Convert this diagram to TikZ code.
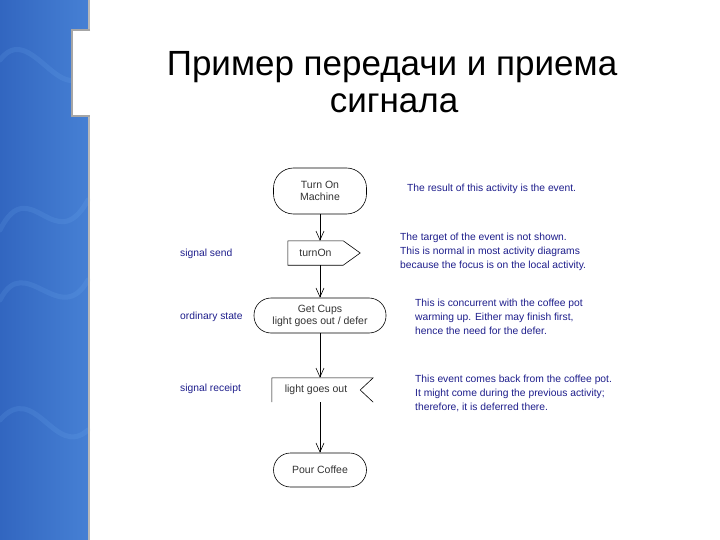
\documentclass[tikz,border=0pt]{standalone}
\usepackage{fontspec}
\setmainfont{Liberation Sans}
\usetikzlibrary{arrows.meta,calc}
\definecolor{notecol}{RGB}{30,30,140}
\definecolor{bandA}{RGB}{50,102,192}
\definecolor{bandB}{RGB}{70,128,212}
\definecolor{streak}{RGB}{120,180,245}
\begin{document}
\begin{tikzpicture}[x=1pt,y=-1pt,
  act/.style={draw, rounded corners=17pt, minimum width=93pt, minimum height=34pt,
    font=\fontsize{10.5}{12}\selectfont, align=center, text=black!80, line width=0.6pt, inner sep=1pt},
  sig/.style={minimum height=24pt, inner sep=0pt, font=\fontsize{10.5}{12}\selectfont, text=black!80},
  sigline/.style={line width=0.6pt},
  flow/.style={-{Straight Barb[length=9pt,width=8pt]}, line width=0.6pt},
  notetext/.style={anchor=west, align=left, text=notecol, font=\fontsize{10.3}{14}\selectfont, inner sep=0pt},
  sidelabel/.style={anchor=west, text=notecol, font=\fontsize{10.3}{12}\selectfont, inner sep=0pt},
  titletext/.style={anchor=base, font=\fontsize{35}{38}\selectfont, inner sep=0pt}]
\useasboundingbox (0,0) rectangle (720,540);
\fill[white] (0,0) rectangle (720,540);
% left blue band
\shade[left color=bandA, right color=bandB] (0,0) rectangle (88,540);
\begin{scope}[streak, opacity=0.15, line width=5pt, line cap=round]
  \draw (0,60) .. controls (30,20) and (60,110) .. (88,70);
  \draw (0,230) .. controls (30,170) and (55,260) .. (88,200);
  \draw (0,300) .. controls (25,250) and (60,330) .. (88,280);
  \draw (0,420) .. controls (35,380) and (55,460) .. (88,430);
\end{scope}
\fill[gray!55] (87.5,0) rectangle (90,540);
% white tab
\fill[white] (72,30) rectangle (91,116);
\draw[gray!70, line width=1.2pt] (90,30) -- (72,30) -- (72,116) -- (90,116);
% title
\node[titletext] (t1) at (392,76) {Пример передачи и приема};
\node[titletext] (t2) at (394,113) {сигнала};
% diagram nodes
\node[act, minimum height=46pt, rounded corners=20pt] (tom) at (320,191) {Turn On\\Machine};
\node[sig, minimum width=55pt] (send) at (315.5,253) {turnOn};
\draw[sigline] (send.north west) -- (send.north east) -- ($(send.east)+(17,0)$) -- (send.south east) -- (send.south west) -- cycle;
\node[act, minimum width=132pt, minimum height=35pt] (cups) at (320,315.5) {Get Cups\\light goes out / defer};
\node[sig, minimum width=88pt] (rec) at (316,390) {light goes out};
\draw[sigline] (rec.south west) -- (rec.north west) -- ($(rec.north east)+(13,0)$) -- (rec.east) -- ($(rec.south east)+(13,0)$);
\node[act] (pour) at (320,470) {Pour Coffee};
% connectors
\draw[flow] (tom.south) -- (tom.south |- send.north);
\draw[flow] (send.south -| tom.south) -- (cups.north);
\draw[flow] (cups.south) -- (cups.south |- rec.north);
\draw[flow] (rec.south -| cups.south) -- (pour.north);
% side labels
\node[sidelabel] (l1) at (180,254) {signal send};
\node[sidelabel] (l2) at (180,317) {ordinary state};
\node[sidelabel] (l3) at (180,389) {signal receipt};
% notes
\node[notetext] (n1) at (407,189) {The result of this activity is the event.};
\node[notetext] (n2) at (400,252) {The target of the event is not shown.\\This is normal in most activity diagrams\\because the focus is on the local activity.};
\node[notetext] (n3) at (415,317) {This is concurrent with the coffee pot\\warming up. Either may finish first,\\hence the need for the defer.};
\node[notetext] (n4) at (415,393) {This event comes back from the coffee pot.\\It might come during the previous activity;\\therefore, it is deferred there.};
\end{tikzpicture}
\end{document}
